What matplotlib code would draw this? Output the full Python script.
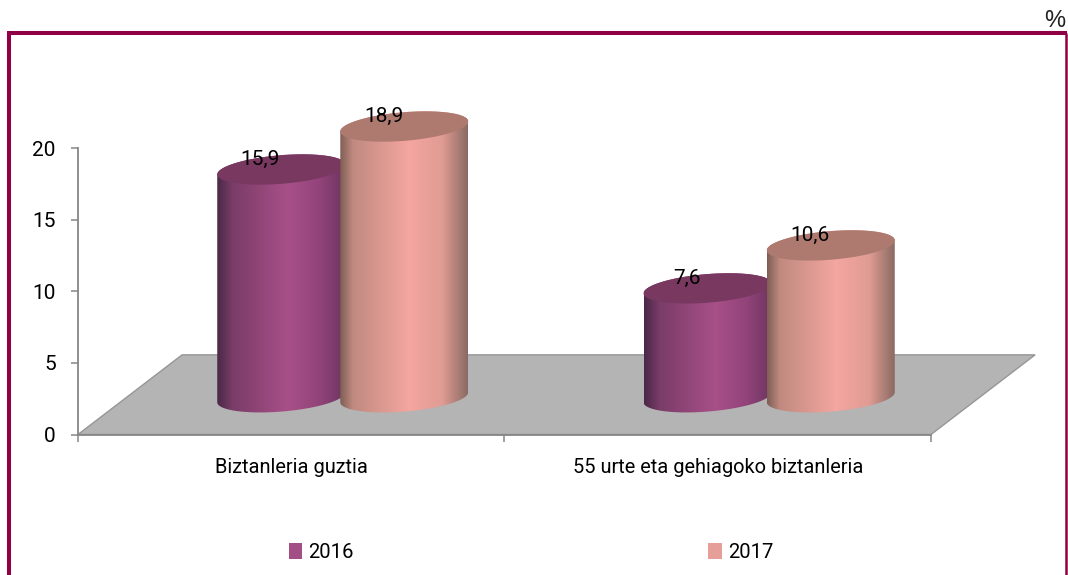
import numpy as np
import matplotlib
matplotlib.use('Agg')
import matplotlib.pyplot as plt
from matplotlib.colors import LinearSegmentedColormap
from matplotlib.lines import Line2D
from matplotlib.patches import Patch, Polygon

plt.rcParams['font.family'] = ['Roboto', 'Liberation Sans']

categories = ['Biztanleria guztia', '55 urte eta gehiagoko biztanleria']
years = ['2016', '2017']
values_2016 = [15.9, 7.6]
values_2017 = [18.9, 10.6]
y_ticks = [0, 5, 10, 15, 20]

W, H = 1068, 575
fig = plt.figure(figsize=(W / 100, H / 100), dpi=100)

# axes placed so that 0 sits at pixel y=434.5 and 20 at y=148
px_per_unit = 14.325
px_per_cat = 426.5
ax = fig.add_axes([78 / W, (H - 434.5) / H, 2.3 * px_per_cat / W, 26 * px_per_unit / H])
ax.set_xlim(0, 2.3)
ax.set_ylim(0, 26)
ax.patch.set_visible(False)

# frame, open at the bottom
frame = '#8F0045'
fig.add_artist(Line2D([9 / W, 9 / W], [0, (H - 33) / H], color=frame, lw=2.9, solid_capstyle='butt'))
fig.add_artist(Line2D([7 / W, 1067 / W], [(H - 33) / H, (H - 33) / H], color=frame, lw=2.9, solid_capstyle='butt'))
fig.add_artist(Line2D([1066 / W, 1066 / W], [0, (H - 33) / H], color=frame, lw=1.8, solid_capstyle='butt'))
fig.text(1065 / W, (H - 27) / H, '%', ha='right', va='baseline', fontsize=17, color='#222222',
         family=['Liberation Sans'])

# floor
floor_depth = 5.56
floor_shift = 0.244
ax.add_patch(Polygon([(0, 0), (2, 0), (2 + floor_shift, floor_depth), (floor_shift, floor_depth)],
                     closed=True, facecolor='#B4B4B4', edgecolor='#969696', lw=1.0, zorder=1))

# cylinders
base = 2.6
half_w = 0.15
tilt = 0.35
minor = 1.0
t = np.linspace(0, 2 * np.pi, 181)


def ring(xc, yc, tt):
    return xc + half_w * np.cos(tt), yc + tilt * np.cos(tt) + minor * np.sin(tt)


def cylinder(xc, val, cmap, top_color, z):
    top = base + val
    # left-to-right outline: bottom half of the base ellipse, then top edge back
    bx, by = ring(xc, base, np.linspace(np.pi, 2 * np.pi, 91))
    tx, ty = ring(xc, top, np.linspace(0, np.pi, 91))
    body = Polygon(np.column_stack([np.r_[bx, tx], np.r_[by, ty]]), closed=True,
                   transform=ax.transData, facecolor='none', edgecolor='none')
    ax.add_patch(body)
    grad = np.linspace(0, 1, 256).reshape(1, -1)
    im = ax.imshow(grad, cmap=cmap, aspect='auto', zorder=z, interpolation='bilinear',
                   extent=(xc - half_w, xc + half_w, base - 2, top + 2))
    im.set_clip_path(body)
    ex, ey = ring(xc, top, t)
    ax.fill(ex, ey, color=top_color, lw=0, zorder=z + 0.1)


purple = LinearSegmentedColormap.from_list('p', [(0, '#4A2848'), (0.12, '#7A3C68'), (0.56, '#A85088'),
                                                 (0.8, '#92447A'), (1, '#6E3560')])
pink = LinearSegmentedColormap.from_list('q', [(0, '#7E5E54'), (0.1, '#C08A80'), (0.54, '#F4A6A0'),
                                               (0.8, '#E09C94'), (1, '#8A6A62')])
x_2016 = [0.4765, 1.476]
x_2017 = [0.765, 1.765]
for i in range(2):
    cylinder(x_2016[i], values_2016[i], purple, '#783860', 3 + i * 2)
    cylinder(x_2017[i], values_2017[i], pink, '#AE7A70', 4 + i * 2)

# data labels
for xs, vals in ((x_2016, values_2016), (x_2017, values_2017)):
    for x, v in zip(xs, vals):
        ax.annotate(f'{v:.1f}'.replace('.', ','), (x, base + v), xytext=(-15, 7),
                    textcoords='offset points', ha='center', va='center', fontsize=15,
                    color='black', zorder=10)

# axes
grey = '#868686'
for s in ('top', 'right'):
    ax.spines[s].set_visible(False)
ax.spines['left'].set_bounds(0, 20)
ax.spines['bottom'].set_bounds(0, 2)
ax.spines['left'].set_color(grey)
ax.spines['bottom'].set_color(grey)
ax.spines['left'].set_linewidth(1.3)
ax.spines['bottom'].set_linewidth(1.3)
ax.set_yticks(y_ticks)
ax.set_xticks([0, 1, 2])
ax.set_xticklabels([])
ax.set_xticks([0.5, 1.5], categories, minor=True)
ax.tick_params(axis='y', labelsize=15, color=grey, width=1.1, length=5, pad=11)
ax.tick_params(axis='x', which='major', color=grey, width=1.1, length=5)
ax.tick_params(axis='x', which='minor', length=0, labelsize=14.4, pad=17)

# legend
handles = [Patch(facecolor='#A34F86', label=years[0]), Patch(facecolor='#E59E98', label=years[1])]
fig.legend(handles=handles, loc='center', bbox_to_anchor=(531 / W, (H - 552.5) / H), ncol=2, frameon=False,
           fontsize=14.6, handlelength=0.65, handleheight=0.85, handletextpad=0.3, columnspacing=17.5)

fig.savefig('out.png', dpi=100)
